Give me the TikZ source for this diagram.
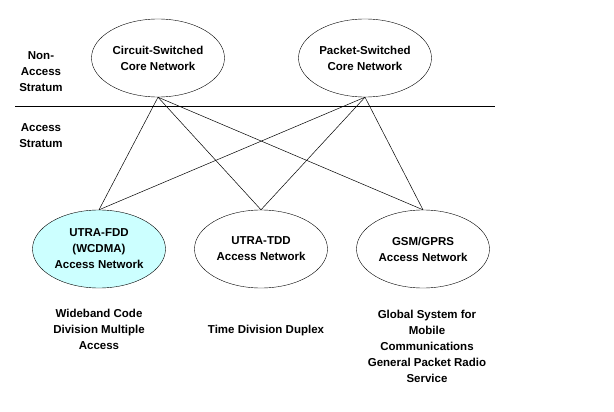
\documentclass[tikz,border=0pt]{standalone}
\usepackage{fontspec}
\setmainfont{Liberation Sans}
\usepackage{tikz}
\usetikzlibrary{shapes.geometric, positioning}
\definecolor{fddcyan}{RGB}{204, 255, 255}

\begin{document}
\begin{tikzpicture}[x=1pt, y=-1pt,
    net/.style={draw, ellipse, minimum width=133pt, minimum height=78pt, inner sep=0pt, align=center, font=\bfseries\fontsize{11.5}{16}\selectfont},
    caption/.style={align=center, font=\bfseries\fontsize{11.5}{16}\selectfont},
    link/.style={draw, line width=0.5pt}]
  \useasboundingbox (0, 0) rectangle (614, 412);

  % core networks
  \node[net] (cs) at (158, 58) {Circuit-Switched\\Core Network};
  \node[net] (ps) at (365, 58) {Packet-Switched\\Core Network};

  % stratum divider
  \coordinate (divl) at (15, 106);
  \coordinate (divr) at (495, 106);
  \draw[line width=0.6pt] (divl) -- (divr);
  \node[caption] (nas) at (41, 72) {Non-\\Access\\Stratum};
  \node[caption] (as) at (41, 136) {Access\\Stratum};

  % access networks
  \node[net, fill=fddcyan] (fdd) at (99, 249) {UTRA-FDD\\(WCDMA)\\Access Network};
  \node[net] (tdd) at (261, 249) {UTRA-TDD\\Access Network};
  \node[net] (gsm) at (423, 249) {GSM/GPRS\\Access Network};

  \foreach \core in {cs, ps}
    \foreach \acc in {fdd, tdd, gsm}
      \draw[link] (\core.south) -- (\acc.north);

  % expansions
  \node[caption] (fddtxt) at (99, 329) {Wideband Code\\Division Multiple\\Access};
  \node[caption] (tddtxt) at (266, 331) {Time Division Duplex};
  \node[caption] (gsmtxt) at (427, 346) {Global System for\\Mobile\\Communications\\General Packet Radio\\Service};
\end{tikzpicture}
\end{document}
